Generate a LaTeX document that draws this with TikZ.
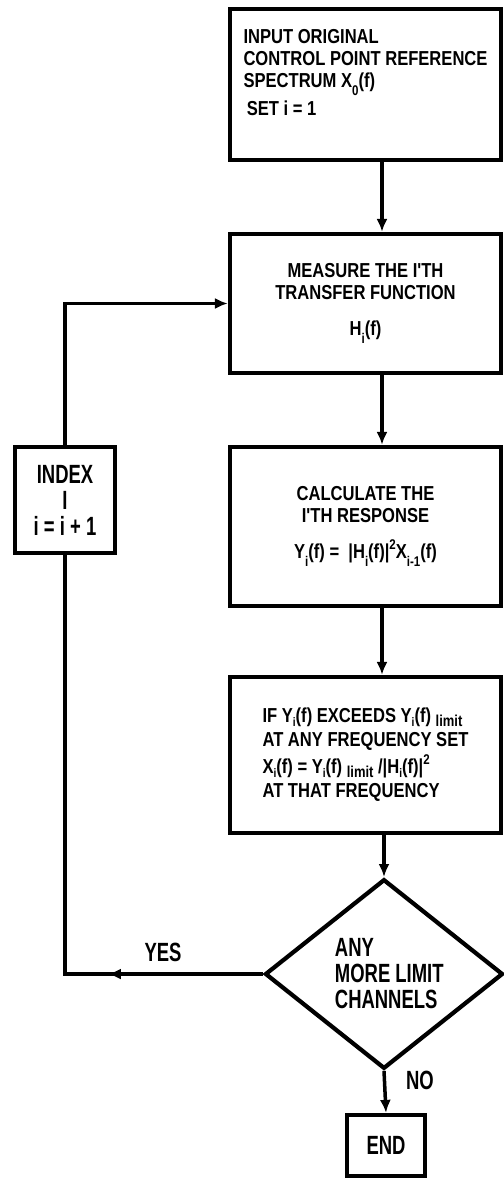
\documentclass[tikz,border=0pt]{standalone}
\usepackage{fontspec}
\usepackage{tikz}
\usetikzlibrary{calc,arrows.meta,shapes.geometric,decorations.markings}
\newfontfamily\boxfnt{Liberation Sans}[FakeStretch=0.82]
\newfontfamily\bigfnt{Liberation Sans}[FakeStretch=0.70]
\newcommand\lo[1]{\raisebox{-0.7ex}{\footnotesize #1}}
\newcommand\ssub[1]{\raisebox{-0.3ex}{\scriptsize #1}}
\newcommand\hi[1]{\raisebox{0.9ex}{\footnotesize #1}}
\newcommand\dn[1]{\raisebox{-0.3ex}{\small #1}}
\tikzset{
  blk/.style={rectangle,draw=black,line width=2.4pt,minimum width=5.42cm,inner sep=3pt,
    font=\boxfnt\bfseries\fontsize{11.5}{12.6}\selectfont},
  dec/.style={diamond,draw=black,line width=2.4pt,minimum width=4.76cm,minimum height=2.96cm,
    inner sep=0pt,align=left,font=\bigfnt\bfseries\fontsize{15}{14.8}\selectfont},
  sml/.style={rectangle,draw=black,line width=2.4pt,inner sep=2pt,align=center,
    font=\bigfnt\bfseries\fontsize{15}{14.8}\selectfont},
  lab/.style={font=\bigfnt\bfseries\fontsize{15}{14.8}\selectfont},
  line/.style={line width=2pt,black},
  flow/.style={line,-{Latex[length=2.6mm,width=2.2mm]}},
}

\begin{document}
\begin{tikzpicture}
  \useasboundingbox (0,0) rectangle (10.06,-23.56);
  \coordinate (sp) at (7.64,0);
  \node[blk,minimum height=3.02cm,align=left] (inp) at (7.31,-1.69)
    {INPUT ORIGINAL\\CONTROL POINT REFERENCE\\SPECTRUM X\lo{0}(f)\\[2pt]\,SET i = 1\\[1pt]\mbox{}};
  \node[blk,minimum height=2.78cm,align=center] (meas) at (7.31,-6.07)
    {MEASURE THE I'TH\\TRANSFER FUNCTION\\[8pt]H\lo{i}(f)};
  \node[blk,minimum height=3.18cm,align=center] (calc) at (7.31,-10.53)
    {CALCULATE THE\\I'TH RESPONSE\\[8pt]Y\lo{i}(f) = \ |H\lo{i}(f)|\hi{2}X\lo{i-1}(f)};
  \node[blk,minimum height=3.12cm,align=left] (lim) at (7.31,-15.10)
    {IF Y\ssub{i}(f) EXCEEDS Y\ssub{i}(f) \dn{limit}\\[1pt]AT ANY FREQUENCY SET\\[1pt]X\ssub{i}(f) = Y\ssub{i}(f) \dn{limit} /|H\ssub{i}(f)|\hi{2}\\[1pt]AT THAT FREQUENCY};
  \node[dec] (any) at (7.68,-19.48) {\hspace{6pt}ANY\\\hspace{6pt}MORE LIMIT\\\hspace{6pt}CHANNELS};
  \node[sml,minimum width=1.56cm,minimum height=1.22cm] (fin) at (7.72,-22.91) {END};
  \node[sml,minimum width=2.0cm,minimum height=2.12cm] (idx) at (1.30,-10.0) {INDEX\\I\\i = i + 1};
  \draw[flow] (inp.south -| sp) -- (meas.north -| sp);
  \draw[flow] (meas.south -| sp) -- (calc.north -| sp);
  \draw[flow] (calc.south -| sp) -- (lim.north -| sp);
  \draw[flow] (lim.south -| any.north) -- (any.north);
  \draw[flow] (any.south) -- (fin.north);
  \draw[line,postaction={decorate},decoration={markings,
    mark=at position 3.1cm with {\arrow{Latex[length=2.6mm,width=2.2mm]}}}]
    (any.west) -- (any.west -| idx.south) -- (idx.south);
  \draw[flow] (idx.north) |- (meas.west);
  \node[lab] at (3.26,-19.04) {YES};
  \node[lab] at (8.40,-21.60) {NO};
\end{tikzpicture}
\end{document}
